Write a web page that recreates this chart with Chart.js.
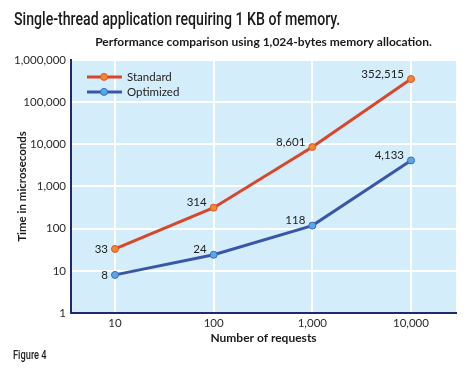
<!DOCTYPE html>
<html>
<head>
<meta charset="utf-8">
<script src="https://cdn.jsdelivr.net/npm/chart.js@4"></script>
<style>
    html, body { margin: 0; padding: 0; background: #fff; }
    #wrap { position: relative; width: 474px; height: 368px; }
    .narrow {
        position: absolute; white-space: nowrap;
        font-family: Roboto, "Liberation Sans", sans-serif;
        font-weight: 500;
        color: #1a1a1a; transform-origin: 0 0;
    }
    #title { left: 14px; top: 9px; font-size: 18px; line-height: 20px; }
    #figure { left: 13px; top: 348px; font-size: 12px; line-height: 14px; color: #222; }
</style>
</head>
<body>
<div id="wrap">
    <canvas id="chart" width="474" height="368"></canvas>
    <div id="title" class="narrow">Single-thread application requiring 1 KB of memory.</div>
    <div id="figure" class="narrow">Figure 4</div>
</div>
<script>
let requests = [10, 100, 1000, 10000];
let standardTimes = [33, 314, 8601, 352515];
let optimizedTimes = [8, 24, 118, 4133];
let yTicks = [1, 10, 100, 1000, 10000, 100000, 1000000];

let tickFont = { family: "Lato", size: 11.5 };
let boldFont = { family: "Lato", size: 12, weight: "bold" };

function fmt(v) {
    return Number(v).toLocaleString("en-US");
}

function toPoints(values) {
    return requests.map((r, i) => ({ x: r, y: values[i] }));
}

// squeeze the heading text into a condensed look
function condense(id, targetWidth) {
    let el = document.getElementById(id);
    el.style.transform = `scaleX(${targetWidth / el.offsetWidth})`;
}
condense("title", 326);
condense("figure", 34);

// light blue plot background
const plotBg = {
    id: "plotBg",
    beforeDraw(chart) {
        let { ctx, chartArea: a } = chart;
        ctx.save();
        ctx.fillStyle = "#d4edfb";
        ctx.fillRect(a.left, a.top, a.right - a.left, a.bottom - a.top);
        ctx.restore();
    }
};

// numbers next to each marker
const valueLabels = {
    id: "valueLabels",
    afterDatasetsDraw(chart) {
        let ctx = chart.ctx;
        ctx.save();
        ctx.font = "11.5px Lato";
        ctx.fillStyle = "#222";
        ctx.textAlign = "right";
        ctx.textBaseline = "middle";
        chart.data.datasets.forEach((ds, di) => {
            chart.getDatasetMeta(di).data.forEach((pt, i) => {
                let dy = i === 0 ? 0 : -5;
                ctx.fillText(fmt(ds.data[i].y), pt.x - 7, pt.y + dy);
            });
        });
        ctx.restore();
    }
};

// legend: line with marker, inside the plot
const lineLegend = {
    id: "lineLegend",
    afterDraw(chart) {
        let { ctx, chartArea: a } = chart;
        ctx.save();
        ctx.font = "11.5px Lato";
        ctx.textBaseline = "middle";
        ctx.textAlign = "left";
        chart.data.datasets.forEach((ds, i) => {
            let x = a.left + 16;
            let y = a.top + 17 + i * 15;
            ctx.strokeStyle = ds.borderColor;
            ctx.lineWidth = 3;
            ctx.beginPath();
            ctx.moveTo(x, y);
            ctx.lineTo(x + 35, y);
            ctx.stroke();
            ctx.beginPath();
            ctx.arc(x + 17, y, 3.5, 0, Math.PI * 2);
            ctx.fillStyle = ds.pointBackgroundColor;
            ctx.fill();
            ctx.lineWidth = 1;
            ctx.strokeStyle = ds.pointBorderColor;
            ctx.stroke();
            ctx.fillStyle = "#222";
            ctx.fillText(ds.label, x + 40, y);
        });
        ctx.restore();
    }
};

let chart = new Chart(document.getElementById("chart"), {
    type: "line",
    data: {
        datasets: [
            {
                label: "Standard",
                data: toPoints(standardTimes),
                borderColor: "#d8472b",
                borderWidth: 3,
                pointRadius: 3.5,
                pointBorderWidth: 1,
                pointBackgroundColor: "#f3862f",
                pointBorderColor: "#d8572a",
                tension: 0
            },
            {
                label: "Optimized",
                data: toPoints(optimizedTimes),
                borderColor: "#3a57a7",
                borderWidth: 3,
                pointRadius: 3.5,
                pointBorderWidth: 1,
                pointBackgroundColor: "#5aa7e8",
                pointBorderColor: "#3a6cb8",
                tension: 0
            }
        ]
    },
    options: {
        responsive: false,
        animation: false,
        layout: { padding: { left: 0, right: 18, top: 0, bottom: 0 } },
        plugins: {
            legend: { display: false },
            tooltip: { enabled: false },
            subtitle: {
                display: true,
                fullSize: false,
                text: "Performance comparison using 1,024-bytes memory allocation.",
                color: "#1a1a1a",
                font: boldFont,
                padding: { top: 34.5, bottom: 11 }
            }
        },
        scales: {
            x: {
                type: "logarithmic",
                min: 3.58,
                max: 28600,
                afterBuildTicks: s => { s.ticks = requests.map(v => ({ value: v })); },
                afterFit: s => { s.height = 55; },
                ticks: {
                    autoSkip: false,
                    maxRotation: 0,
                    padding: 3,
                    color: "#2a2a2a",
                    font: tickFont,
                    callback: v => fmt(v)
                },
                grid: { color: "#ffffff", lineWidth: 2, drawTicks: false },
                border: { color: "#23276b", width: 2 },
                title: {
                    display: true,
                    text: "Number of requests",
                    color: "#1a1a1a",
                    font: boldFont,
                    padding: { top: 0, bottom: 22.5 }
                }
            },
            y: {
                type: "logarithmic",
                min: 1,
                max: 1000000,
                afterBuildTicks: s => { s.ticks = yTicks.map(v => ({ value: v })); },
                afterFit: s => { s.width = 71; },
                ticks: {
                    autoSkip: false,
                    padding: 5,
                    color: "#2a2a2a",
                    font: tickFont,
                    callback: v => fmt(v)
                },
                grid: { color: "#ffffff", lineWidth: 2, drawTicks: false },
                border: { color: "#23276b", width: 2 },
                title: {
                    display: true,
                    text: "Time in microseconds",
                    color: "#1a1a1a",
                    font: { family: "Lato", size: 11.5, weight: "bold" },
                    padding: { top: 15, bottom: 0 }
                }
            }
        }
    },
    plugins: [plotBg, valueLabels, lineLegend]
});
</script>
</body>
</html>
